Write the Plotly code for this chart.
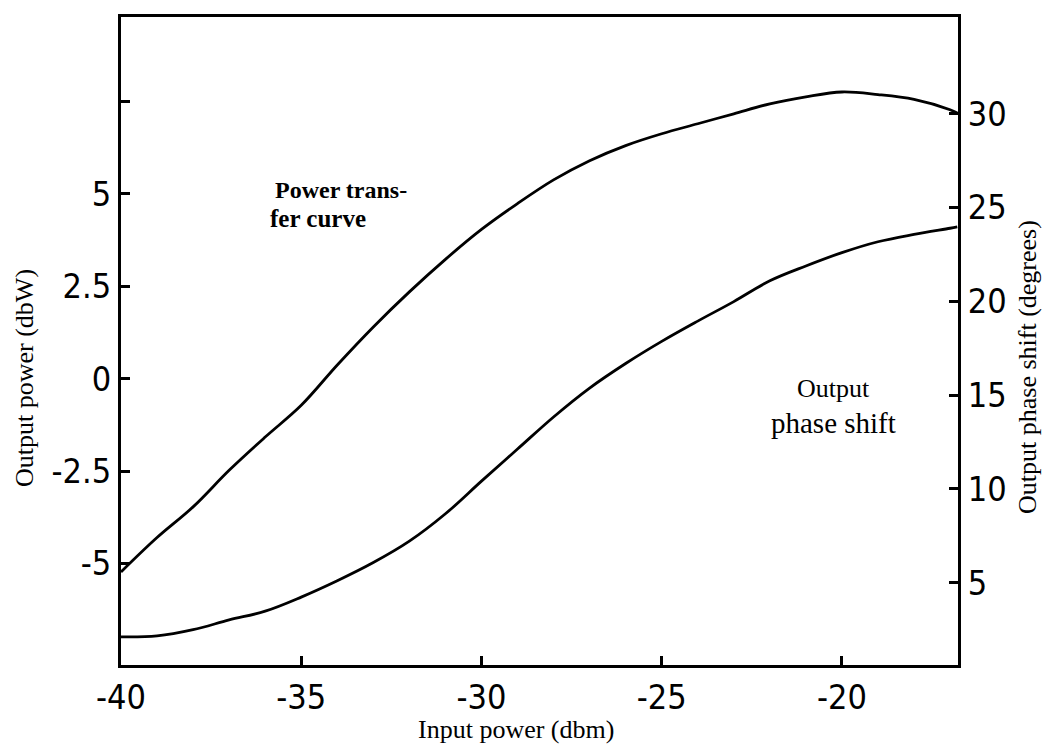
import plotly.graph_objects as go

# ---- data ----
input_power_dbm = [-40, -39, -38, -37, -36, -35, -34, -33, -32, -31, -30, -29, -28,
                   -27, -26, -25, -24, -23, -22, -21, -20, -19, -18, -17, -16.8]
output_power_dbw = [-5.23, -4.30, -3.47, -2.48, -1.58, -0.72, 0.37, 1.40, 2.35, 3.23,
                    4.04, 4.74, 5.38, 5.90, 6.31, 6.63, 6.90, 7.17, 7.44, 7.63,
                    7.76, 7.69, 7.56, 7.28, 7.19]
phase_shift_deg = [2.11, 2.16, 2.49, 3.01, 3.48, 4.23, 5.10, 6.07, 7.21, 8.67,
                   10.41, 12.12, 13.83, 15.37, 16.68, 17.86, 18.94, 19.98, 21.09, 21.88,
                   22.59, 23.17, 23.56, 23.89, 23.96]

x_tick_vals = [-40, -35, -30, -25, -20]
x_tick_text = ["-40", "-35", "-30", "-25", "-20"]
left_tick_vals = [-5, -2.5, 0, 2.5, 5, 7.5]
left_tick_text = ["-5", "-2.5", "0", "2.5", "5", ""]
right_tick_vals = [5, 10, 15, 20, 25, 30]
right_tick_text = ["5", "10", "15", "20", "25", "30"]

# ---- layout geometry ----
W, H = 1051, 748
L, R, T, B = 121, 958, 17, 665


def px(x):
    return (x - L) / (R - L)


def py(y):
    return (B - y) / (B - T)


TICK_FONT = dict(family="DejaVu Sans Condensed, DejaVu Sans, sans-serif", size=34, color="black")
SERIF = "Liberation Serif, Times New Roman, serif"

fig = go.Figure()
fig.add_trace(go.Scatter(x=input_power_dbm, y=output_power_dbw, mode="lines",
                         line=dict(color="black", width=2.8, shape="spline"),
                         showlegend=False, yaxis="y"))
fig.add_trace(go.Scatter(x=input_power_dbm, y=phase_shift_deg, mode="lines",
                         line=dict(color="black", width=2.8, shape="spline"),
                         showlegend=False, yaxis="y2"))

axis_common = dict(showline=True, linecolor="black", linewidth=3, ticks="inside",
                   ticklen=9, tickwidth=2.5, tickcolor="black", showgrid=False,
                   zeroline=False, tickfont=TICK_FONT)

fig.update_layout(
    width=W, height=H,
    margin=dict(l=L, r=W - R, t=T, b=H - B),
    paper_bgcolor="white", plot_bgcolor="white",
    xaxis=dict(range=[-40, -16.78], tickmode="array", tickvals=x_tick_vals,
               ticktext=x_tick_text, mirror=True, **axis_common),
    yaxis=dict(range=[-7.75, 9.79], tickmode="array", tickvals=left_tick_vals,
               ticktext=left_tick_text, **axis_common),
    yaxis2=dict(range=[0.61, 35.15], tickmode="array", tickvals=right_tick_vals,
                ticktext=right_tick_text, overlaying="y", side="right", **axis_common),
)

ann = []
ann.append(dict(text="Output power (dbW)", x=px(25), y=py(378), textangle=-90,
                font=dict(family=SERIF, size=26, color="black")))
ann.append(dict(text="Output phase shift (degrees)", x=px(1027), y=py(367), textangle=-90,
                font=dict(family=SERIF, size=26, color="black")))
ann.append(dict(text="Input power (dbm)", x=px(516), y=py(730),
                font=dict(family=SERIF, size=26, color="black")))
ann.append(dict(text="<b>Power trans-</b>", x=px(273), y=py(190), xanchor="left",
                font=dict(family=SERIF, size=24, color="black")))
ann.append(dict(text="<b>fer curve</b>", x=px(268), y=py(218), xanchor="left",
                font=dict(family=SERIF, size=25, color="black")))
ann.append(dict(text="Output", x=px(833), y=py(388),
                font=dict(family=SERIF, size=26, color="black")))
ann.append(dict(text="phase shift", x=px(833), y=py(423),
                font=dict(family=SERIF, size=29, color="black")))
for a in ann:
    a.update(xref="paper", yref="paper", showarrow=False)
    a.setdefault("xanchor", "center")
    a.setdefault("yanchor", "middle")
fig.update_layout(annotations=ann)

fig.write_html("out.html")
